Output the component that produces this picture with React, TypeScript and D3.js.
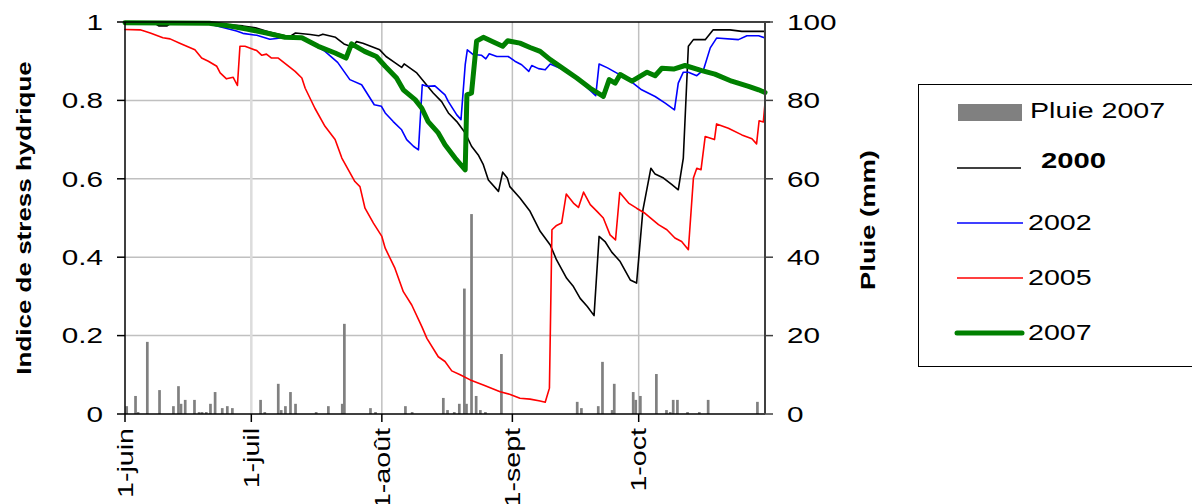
import React from 'react';
import * as d3 from 'd3';

const width = 1192;
const height = 504;

// days counted from 1 June
const monthDays = [0, 30, 61, 92, 122];
const monthLabels = ['1-juin', '1-juil', '1-août', '1-sept', '1-oct'];
const leftTicks = [0, 0.2, 0.4, 0.6, 0.8, 1];
const rightTicks = [0, 20, 40, 60, 80, 100];

// [day, mm]
const pluie2007: [number, number][] = [
  [0.4, 2], [2.5, 4.6], [3.1, 0.5], [5.3, 18.4], [8.2, 6.1], [11.5, 2], [12.7, 7.1], [13.3, 2.6],
  [14.3, 3.6], [16.5, 3.6], [17.6, 0.5], [18.3, 0.5], [19.3, 0.5], [20.3, 2.6], [21.4, 5.6],
  [23.1, 1.5], [24.3, 2], [25.5, 1.5], [32.2, 3.6], [33.2, 0.5], [36.4, 7.7], [37.1, 1], [38.1, 2],
  [39.3, 5.6], [40.5, 2.6], [45.4, 0.5], [48.3, 2], [51.6, 2.6], [52.1, 23], [58.3, 1.5], [59.5, 0.5],
  [66.6, 2], [68.2, 0.5], [75.6, 4.1], [76.6, 1], [78.2, 0.5], [79.4, 2.6], [80.6, 32], [81.1, 2.6],
  [82.3, 51], [83.4, 4.6], [84.4, 1], [85.6, 0.5], [89.4, 15.3], [107.4, 3.1], [108.4, 1.5],
  [112.4, 2], [113.4, 13.3], [115.7, 1], [116.2, 7.7], [120.7, 5.6], [121.3, 3.6], [122.4, 4.6],
  [126.2, 10.2], [128.6, 1], [129.5, 0.5], [130.2, 3.6], [131.2, 3.6], [133.6, 0.5], [136.4, 0.5],
  [138.5, 3.6], [150.2, 3.1],
];

// [day, indice]
const s2000: [number, number][] = [
  [0, 1.0], [7, 0.997], [8, 0.99], [10, 0.99], [11, 0.998], [20, 0.997], [28, 0.99], [31, 0.985],
  [34, 0.975], [39, 0.962], [40.5, 0.972], [44, 0.968], [46, 0.965], [47, 0.969], [50, 0.961],
  [52, 0.944], [54, 0.936], [55, 0.95], [56.5, 0.946], [60.5, 0.929], [62, 0.912], [64, 0.897],
  [65.7, 0.884], [66.3, 0.893], [69.3, 0.87], [71.3, 0.844], [73.2, 0.819], [75.2, 0.797],
  [76.8, 0.768], [78.8, 0.746], [80.8, 0.717], [82.3, 0.683], [83.9, 0.661], [85.1, 0.636],
  [86.3, 0.597], [88.7, 0.568], [89.7, 0.617], [90.8, 0.602], [91.4, 0.58], [93.8, 0.551],
  [96.2, 0.517], [98.6, 0.466], [101, 0.431], [102.5, 0.393], [104.9, 0.346], [106.5, 0.325],
  [108.1, 0.295], [109.8, 0.274], [111.4, 0.251], [112.6, 0.453], [114, 0.44], [115.6, 0.413],
  [117.6, 0.389], [120, 0.342], [121.5, 0.334], [123, 0.52], [124.9, 0.627], [125.9, 0.612],
  [127.9, 0.602], [129.9, 0.585], [131.4, 0.572], [132.6, 0.653], [133.8, 0.938], [135, 0.955],
  [137.8, 0.955], [139.7, 0.98], [143.7, 0.98], [146.5, 0.976], [152, 0.976],
];

const s2002: [number, number][] = [
  [0, 1.0], [20, 0.995], [26.5, 0.977], [28, 0.971], [31.3, 0.966], [34.4, 0.956], [36, 0.958],
  [38, 0.961], [42, 0.96], [44, 0.952], [45.5, 0.938], [47.5, 0.925], [50.5, 0.897], [53.4, 0.853],
  [56.2, 0.84], [59.2, 0.789], [60.9, 0.785], [61.8, 0.768], [63.7, 0.746], [65.7, 0.725],
  [66.9, 0.7], [68.5, 0.683], [69.7, 0.674], [70.6, 0.84], [71.7, 0.836], [73.6, 0.837], [76, 0.814],
  [76.8, 0.797], [78.8, 0.763], [79.8, 0.751], [80.8, 0.891], [81.3, 0.929], [82.7, 0.917],
  [84.7, 0.915], [85.7, 0.906], [86.5, 0.919], [88.3, 0.912], [91, 0.912], [92.6, 0.9],
  [94.2, 0.891], [95.9, 0.874], [96.6, 0.889], [98.2, 0.881], [99.8, 0.878], [101, 0.893],
  [105, 0.874], [109, 0.84], [111.8, 0.812], [112.6, 0.893], [114.6, 0.883], [116.4, 0.872],
  [119.6, 0.853], [122.7, 0.827], [125.9, 0.81], [128.3, 0.793], [130.5, 0.776], [131.4, 0.844],
  [132.6, 0.872], [133.8, 0.872], [135.8, 0.863], [137.4, 0.878], [139, 0.934], [140.5, 0.959],
  [145.7, 0.955], [147.7, 0.965], [150.5, 0.965], [152, 0.959],
];

const s2005: [number, number][] = [
  [0, 0.981], [3.6, 0.98], [6, 0.972], [9, 0.96], [10.7, 0.957], [13, 0.946], [16.6, 0.929],
  [18.2, 0.908], [19.8, 0.9], [21.8, 0.887], [22.6, 0.87], [24.1, 0.855], [25.7, 0.859],
  [26.7, 0.838], [27.3, 0.938], [28.5, 0.938], [31.3, 0.927], [32.5, 0.915], [33.6, 0.918],
  [34.8, 0.908], [36.4, 0.908], [39.2, 0.884], [40.4, 0.874], [42, 0.857], [42.8, 0.831],
  [45.1, 0.78], [47.5, 0.734], [49.9, 0.7], [51.5, 0.653], [54.6, 0.593], [55.8, 0.58], [57, 0.525],
  [59, 0.487], [61, 0.453], [61.8, 0.423], [64.1, 0.372], [66.1, 0.312], [68.1, 0.278],
  [70.5, 0.223], [71.7, 0.193], [74.4, 0.146], [76, 0.134], [77.6, 0.11], [79.6, 0.1], [82, 0.087],
  [85.1, 0.074], [89.1, 0.057], [91.5, 0.05], [93.8, 0.04], [96.2, 0.038], [98.6, 0.033],
  [99.8, 0.03], [100.8, 0.066], [101.4, 0.47], [102.5, 0.481], [103.7, 0.487], [104.8, 0.561],
  [106.5, 0.538], [107.7, 0.527], [108.9, 0.566], [110.5, 0.534], [112.1, 0.517], [113.6, 0.5],
  [115.2, 0.457], [116.5, 0.444], [117.5, 0.565], [119.6, 0.538], [121.5, 0.525], [123.5, 0.512],
  [126.7, 0.483], [128.7, 0.47], [130.6, 0.449], [132.2, 0.44], [133.8, 0.419], [135, 0.602],
  [135.8, 0.627], [136.8, 0.623], [137.8, 0.708], [140, 0.7], [140.5, 0.74], [143.3, 0.729],
  [146.5, 0.712], [148.9, 0.702], [150, 0.689], [150.6, 0.748], [151.6, 0.745], [152, 0.793],
];

const s2007: [number, number][] = [
  [0, 0.998], [20, 0.997], [24.9, 0.99], [28.9, 0.982], [33.6, 0.972], [38, 0.961], [42, 0.96],
  [45.9, 0.938], [49.9, 0.921], [52.5, 0.908], [53.8, 0.944], [56.9, 0.925], [59.7, 0.912],
  [61.8, 0.887], [64.5, 0.857], [66.1, 0.827], [68.9, 0.802], [70.5, 0.78], [72, 0.746],
  [74.4, 0.717], [76, 0.687], [78.4, 0.653], [80.8, 0.623], [81.2, 0.814], [82.3, 0.819],
  [83.5, 0.951], [85.1, 0.961], [87.5, 0.949], [89.7, 0.938], [90.9, 0.952], [93.8, 0.946],
  [96.2, 0.935], [98.6, 0.925], [101, 0.904], [104.5, 0.878], [107.3, 0.857], [110.5, 0.831],
  [113.6, 0.81], [115, 0.853], [116.4, 0.844], [117.6, 0.866], [120.4, 0.849], [124, 0.872],
  [125.9, 0.863], [127.5, 0.882], [130.3, 0.88], [133, 0.889], [137, 0.876], [140.1, 0.867],
  [144.1, 0.849], [148.1, 0.836], [150.5, 0.827], [152, 0.82],
];

const series = [
  { name: '2000', data: s2000, color: '#000000', w: 1.6 },
  { name: '2002', data: s2002, color: '#0000ff', w: 1.6 },
  { name: '2005', data: s2005, color: '#ff0000', w: 1.6 },
  { name: '2007', data: s2007, color: '#008000', w: 5 },
];

const left = 125, right = 765, top = 22, bottom = 414;
const font = '"Liberation Sans", Arial, sans-serif';

const x = d3.scaleLinear().domain([0, 152]).range([left, right]);
const y = d3.scaleLinear().domain([0, 1]).range([bottom, top]);
const yRain = d3.scaleLinear().domain([0, 100]).range([bottom, top]);
const line = d3.line<[number, number]>().x(d => x(d[0])).y(d => y(d[1]));

const barW = 2.7;

const App = () => {
  return (
    <svg width={width} height={height} style={{ position: 'absolute', left: 0, top: 0, background: '#fff' }}>
      {/* grid */}
      {leftTicks.slice(1, -1).map(t => (
        <line key={'h' + t} x1={left} x2={right} y1={y(t)} y2={y(t)} stroke="#c0c0c0" strokeWidth={1.5} />
      ))}
      {monthDays.slice(1).map((d, i) => (
        <line key={'v' + d} x1={x(d)} x2={x(d)} y1={top} y2={bottom}
          stroke={i === 0 ? '#dcdcdc' : '#c0c0c0'} strokeWidth={i === 0 ? 2.5 : 1.5} />
      ))}

      {/* rain bars */}
      {pluie2007.map(([d, mm], i) => (
        <rect key={i} x={x(d) - barW / 2} y={yRain(mm)} width={barW} height={bottom - yRain(mm)} fill="#808080" />
      ))}

      {/* lines */}
      {series.map(s => (
        <path key={s.name} d={line(s.data) || ''} fill="none" stroke={s.color} strokeWidth={s.w}
          strokeLinejoin="round" strokeLinecap="round" />
      ))}

      {/* axes */}
      <line x1={left} x2={right + 5} y1={top} y2={top} stroke="#000" strokeWidth={1.5} />
      <line x1={left} x2={right} y1={bottom} y2={bottom} stroke="#000" strokeWidth={1.5} />
      <line x1={left} x2={left} y1={top} y2={bottom} stroke="#000" strokeWidth={1.5} />
      <line x1={right} x2={right} y1={top} y2={bottom} stroke="#404040" strokeWidth={2} />
      {leftTicks.map(t => (
        <g key={'l' + t}>
          <line x1={left - 8} x2={left} y1={y(t)} y2={y(t)} stroke="#000" strokeWidth={1.5} />
          <text transform={`translate(103,${y(t)}) scale(1.35,1)`} dy="0.35em" textAnchor="end"
            fontFamily={font} fontSize={22}>{t}</text>
        </g>
      ))}
      {rightTicks.map(t => (
        <g key={'r' + t}>
          <line x1={right} x2={right + 8} y1={yRain(t)} y2={yRain(t)} stroke="#404040" strokeWidth={1.5} />
          <text transform={`translate(787,${yRain(t)}) scale(1.35,1)`} dy="0.35em" textAnchor="start"
            fontFamily={font} fontSize={22}>{t}</text>
        </g>
      ))}
      {monthDays.map((d, i) => (
        <g key={'m' + d}>
          <line x1={x(d)} x2={x(d)} y1={bottom} y2={bottom + 8} stroke="#000" strokeWidth={1.5} />
          <text transform={`translate(${x(d)},428) rotate(-90) scale(1.3,1)`} dy="0.35em" textAnchor="end"
            fontFamily={font} fontSize={22}>{monthLabels[i]}</text>
        </g>
      ))}

      {/* axis titles */}
      <text transform="translate(24,218) rotate(-90) scale(1.3,1)" dy="0.35em" textAnchor="middle"
        fontFamily={font} fontSize={20} fontWeight="bold">Indice de stress hydrique</text>
      <text transform="translate(868,220) rotate(-90) scale(1.37,1)" dy="0.35em" textAnchor="middle"
        fontFamily={font} fontSize={20} fontWeight="bold">Pluie (mm)</text>

      {/* legend */}
      <rect x={918.5} y={84.5} width={300} height={282} fill="none" stroke="#000" strokeWidth={1} />
      <rect x={958} y={104} width={64} height={17} fill="#808080" />
      <text transform="translate(1030,118) scale(1.3,1)" fontFamily={font} fontSize={22}>Pluie 2007</text>
      <line x1={957} x2={1021} y1={168} y2={168} stroke="#000" strokeWidth={1.5} />
      <text transform="translate(1041,168) scale(1.33,1)" fontFamily={font} fontSize={22} fontWeight="bold">2000</text>
      <line x1={957} x2={1023} y1={223} y2={223} stroke="#0000ff" strokeWidth={1.5} />
      <text transform="translate(1028,230) scale(1.3,1)" fontFamily={font} fontSize={22}>2002</text>
      <line x1={957} x2={1023} y1={278} y2={278} stroke="#ff0000" strokeWidth={1.5} />
      <text transform="translate(1028,285) scale(1.3,1)" fontFamily={font} fontSize={22}>2005</text>
      <line x1={957} x2={1022} y1={333} y2={333} stroke="#008000" strokeWidth={5} strokeLinecap="round" />
      <text transform="translate(1028,340) scale(1.3,1)" fontFamily={font} fontSize={22}>2007</text>
    </svg>
  );
};

export default App;
